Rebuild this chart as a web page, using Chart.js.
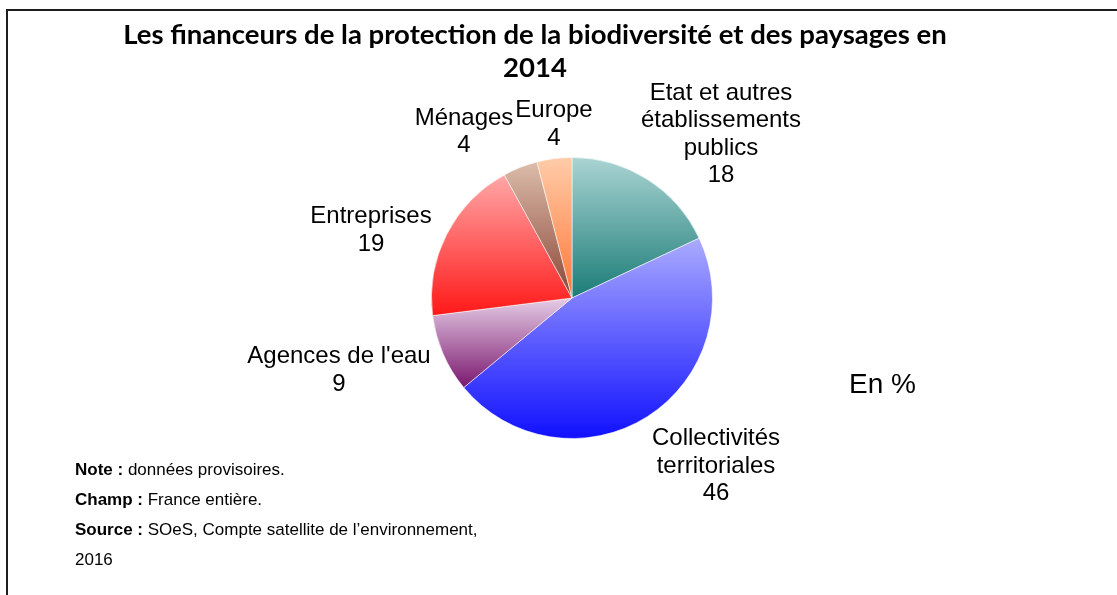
<!DOCTYPE html>
<html>
<head>
<meta charset="utf-8">
<script src="https://cdn.jsdelivr.net/npm/chart.js@4"></script>
<style>
  html, body { margin: 0; padding: 0; background: #fff; }
  #pie { display: block; }
</style>
</head>
<body>
<canvas id="pie" width="1117" height="595"></canvas>
<script>
const categories = [
    ['Etat et autres', 'établissements', 'publics'],
    ['Collectivités', 'territoriales'],
    ["Agences de l'eau"],
    ['Entreprises'],
    ['Ménages'],
    ['Europe'],
];

const values = [18, 46, 9, 19, 4, 4];

const titleLines = [
    'Les financeurs de la protection de la biodiversité et des paysages en',
    '2014',
];

const notes = [
    ['Note : ', 'données provisoires.'],
    ['Champ : ', 'France entière.'],
    ['Source : ', 'SOeS, Compte satellite de l\u2019environnement,'],
    ['', '2016'],
];

// gradient colours, top of slice -> bottom of slice
const colorsTop = ['#aad4d3', '#ababff', '#e6cde6', '#ffa8a8', '#dcbdab', '#ffcca9'];
const colorsBottom = ['#1b7c77', '#1010ff', '#7a176e', '#ff1818', '#8a4536', '#ff7637'];

// label block positions relative to the pie centre (x centre, first baseline)
const labelOffsets = [
    [149, -198.5],
    [144, 147],
    [-233, 65],
    [-201, -75],
    [-108, -173.5],
    [-18, -181],
];

function pieGeometry(chart) {
    const a = chart.chartArea;
    return {
        cx: (a.left + a.right) / 2,
        cy: (a.top + a.bottom) / 2,
        r: Math.min(a.right - a.left, a.bottom - a.top) / 2,
    };
}

function sliceGradient(c) {
    const chart = c.chart;
    const i = c.dataIndex;
    if (!chart.chartArea) return colorsBottom[i];
    const {cx, cy, r} = pieGeometry(chart);
    const total = values.reduce((s, v) => s + v, 0);
    let start = -Math.PI / 2;
    for (let k = 0; k < i; k++) start += values[k] / total * 2 * Math.PI;
    const end = start + values[i] / total * 2 * Math.PI;
    let top = cy, bottom = cy;
    for (let k = 0; k <= 90; k++) {
        const y = cy + r * Math.sin(start + (end - start) * k / 90);
        top = Math.min(top, y);
        bottom = Math.max(bottom, y);
    }
    const g = chart.ctx.createLinearGradient(0, top, 0, bottom);
    g.addColorStop(0, colorsTop[i]);
    g.addColorStop(1, colorsBottom[i]);
    return g;
}

const decorations = {
    id: 'decorations',
    afterDraw(chart) {
        const ctx = chart.ctx;
        const {cx, cy} = pieGeometry(chart);
        ctx.save();

        // frame
        ctx.fillStyle = '#1e1e1e';
        ctx.fillRect(6, 9, 1111, 2);
        ctx.fillRect(6, 9, 2, 586);

        // title
        ctx.fillStyle = '#000';
        ctx.textAlign = 'center';
        ctx.textBaseline = 'alphabetic';
        ctx.font = 'bold 24px Lato';
        const w = ctx.measureText(titleLines[0]).width;
        const size = 24 * 824 / w;
        ctx.font = 'bold ' + size.toFixed(2) + 'px Lato';
        ctx.fillText(titleLines[0], 535, 44);
        ctx.fillText(titleLines[1], 535, 77);

        // slice labels
        ctx.font = '24px "Liberation Sans"';
        categories.forEach((lines, i) => {
            const x = cx + labelOffsets[i][0];
            let y = cy + labelOffsets[i][1];
            lines.concat([String(values[i])]).forEach(t => {
                ctx.fillText(t, x, y);
                y += 27.5;
            });
        });

        // unit
        ctx.font = '28px "Liberation Sans"';
        ctx.textAlign = 'left';
        ctx.fillText('En %', 849, 393);

        // notes
        notes.forEach((n, k) => {
            const y = 475 + k * 30;
            ctx.font = 'bold 17px "Liberation Sans"';
            ctx.fillText(n[0], 75, y);
            const bw = ctx.measureText(n[0]).width;
            ctx.font = '17px "Liberation Sans"';
            ctx.fillText(n[1], 75 + bw, y);
        });

        ctx.restore();
    }
};

const configPie = {
    type: 'pie',
    data: {
        labels: categories,
        datasets: [{
            data: values,
            backgroundColor: sliceGradient,
            borderColor: 'rgba(255,255,255,0.55)',
            borderWidth: 1,
        }]
    },
    options: {
        responsive: false,
        animation: false,
        events: [],
        layout: {
            padding: { left: 431, right: 404, top: 157, bottom: 156 },
        },
        plugins: {
            legend: { display: false },
            tooltip: { enabled: false },
            title: { display: false },
        },
    },
    plugins: [decorations],
};

const PieChart = new Chart(
    document.getElementById('pie'),
    configPie
);
</script>
</body>
</html>
